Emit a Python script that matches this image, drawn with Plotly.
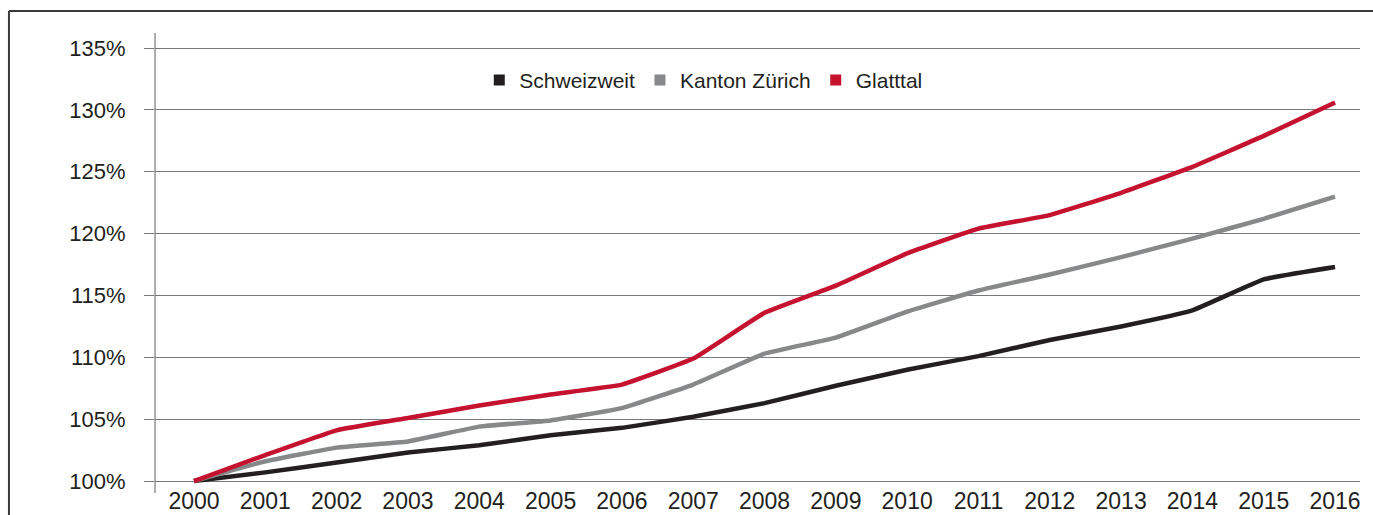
import plotly.graph_objects as go

years = list(range(2000, 2017))

schweizweit = [100, 100.7, 101.5, 102.3, 102.9, 103.7, 104.3, 105.2, 106.3,
               107.7, 109.0, 110.1, 111.4, 112.5, 113.8, 116.3, 117.3]
kanton_zuerich = [100, 101.6, 102.7, 103.2, 104.4, 104.9, 105.9, 107.8, 110.3,
                  111.6, 113.7, 115.4, 116.7, 118.1, 119.6, 121.2, 123.0]
glatttal = [100, 102.1, 104.1, 105.1, 106.1, 107.0, 107.8, 109.9, 113.6,
            115.8, 118.4, 120.4, 121.5, 123.3, 125.4, 127.9, 130.6]

series = [
    ("Schweizweit", schweizweit, "#231f20"),
    ("Kanton Zürich", kanton_zuerich, "#87888a"),
    ("Glatttal", glatttal, "#c4122f"),
]

FONT = "Liberation Sans, Arial, sans-serif"

fig = go.Figure()

for name, vals, color in series:
    fig.add_trace(go.Scatter(
        x=years, y=vals, mode="lines", name=name, showlegend=False,
        line=dict(color=color, width=4.5, shape="spline", smoothing=0.3),
    ))

# square legend entries
for name, vals, color in series:
    fig.add_trace(go.Scatter(
        x=[None], y=[None], mode="markers", name=name,
        marker=dict(symbol="square", size=11, color=color),
    ))

fig.update_layout(
    width=1373, height=515,
    margin=dict(l=155, r=13, t=33, b=30),
    paper_bgcolor="white", plot_bgcolor="white",
    font=dict(family=FONT, size=21, color="#231f20"),
    legend=dict(
        orientation="h", x=0.455, xanchor="center", y=0.895, yanchor="middle",
        font=dict(size=21), itemwidth=30, bgcolor="rgba(0,0,0,0)",
    ),
    xaxis=dict(
        range=[1999.453, 2016.35], tickmode="array", tickvals=years,
        showgrid=False, zeroline=False, showline=False, ticks="",
        tickfont=dict(size=23), automargin=False,
    ),
    yaxis=dict(
        range=[99.68, 136.22], tick0=100, dtick=5, ticksuffix="%",
        showgrid=True, gridcolor="#77787b", gridwidth=1,
        ticks="outside", ticklen=10, tickcolor="#77787b", tickwidth=1,
        zeroline=False, showline=False, ticklabelstandoff=14,
        tickfont=dict(size=22), automargin=False,
    ),
    shapes=[
        # y axis line, extends slightly below the plot
        dict(type="line", xref="paper", yref="paper", x0=0, x1=0, y0=-0.0177, y1=1,
             line=dict(color="#77787b", width=1.2)),
        # outer frame: top and left edges (rest is cut off)
        dict(type="line", xref="paper", yref="paper", x0=-0.1212, x1=1.02,
             y0=1.0487, y1=1.0487, line=dict(color="#3a3a3a", width=2)),
        dict(type="line", xref="paper", yref="paper", x0=-0.1212, x1=-0.1212,
             y0=-0.1, y1=1.0487, line=dict(color="#3a3a3a", width=2)),
    ],
)

# drop the default 8px body margin so the figure fills the window
fig.write_html("out.html", config={"displayModeBar": False},
               post_script="document.body.style.margin='0';")
